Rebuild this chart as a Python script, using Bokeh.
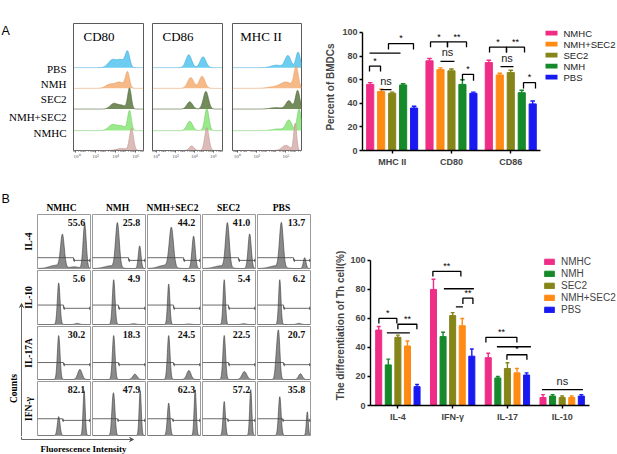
import numpy as np
from bokeh.plotting import figure
from bokeh.layouts import row, column, Spacer
from bokeh.models import Range1d, FixedTicker, Arrow, VeeHead
from bokeh.core.properties import value
from bokeh.embed import file_html
from bokeh.resources import INLINE

SANS = "Liberation Sans"
SERIF = "Liberation Serif"

# ================= DATA =================
# ---- Panel A: flow histograms (ridge plots) ----
ridge_groups = ["PBS", "NMH", "SEC2", "NMH+SEC2", "NMHC"]
ridge_fill = ["#5CC8F0", "#F5B27C", "#65804A", "#8FE880", "#D9B4B0"]
ridge_line = ["#3AAAD8", "#E89A5E", "#4B6334", "#6CCB5E", "#BF9591"]
ridge_base = [4.0, 3.0, 2.0, 0.96, 0.0]
hist_panels = ["CD80", "CD86", "MHC II"]
# peaks: (log10 intensity, height in ridge units, spread in decades)
cd80_peaks = [
    [(5.2, 0.75, 0.22), (4.55, 0.35, 0.35), (3.7, 0.38, 0.40)],
    [(5.2, 0.75, 0.20), (4.4, 0.30, 0.45), (3.4, 0.18, 0.40)],
    [(5.4, 1.00, 0.18), (3.8, 0.25, 0.35), (4.6, 0.18, 0.40)],
    [(5.4, 0.95, 0.18), (3.7, 0.28, 0.40), (4.6, 0.22, 0.40)],
    [(5.6, 1.05, 0.20), (4.6, 0.10, 0.50)],
]
cd86_peaks = [
    [(3.4, 0.62, 0.30), (4.9, 0.52, 0.30)],
    [(3.6, 0.52, 0.32), (4.8, 0.58, 0.30)],
    [(3.5, 0.35, 0.30), (5.2, 0.85, 0.27)],
    [(3.5, 0.45, 0.30), (5.3, 1.05, 0.22)],
    [(3.7, 0.22, 0.25), (5.3, 1.10, 0.22)],
]
mhc_peaks = [
    [(5.2, 0.58, 0.30), (6.25, 0.75, 0.22), (4.0, 0.12, 0.50)],
    [(6.05, 1.00, 0.22), (5.0, 0.30, 0.60), (3.6, 0.06, 0.60)],
    [(5.3, 0.40, 0.30), (6.2, 0.90, 0.22), (4.0, 0.07, 0.60)],
    [(5.3, 0.50, 0.30), (6.35, 1.05, 0.20), (4.2, 0.08, 0.60)],
    [(5.95, 1.30, 0.15), (5.0, 0.25, 0.40)],
]
hist_xranges = [(-0.2, 6.8), (-0.42, 6.95), (-0.5, 6.6)]
hist_ticks = [[0, 2, 4, 6], [0, 2, 4, 6], [0, 2, 5]]
hist_tick_labels = [["10⁰", "10²", "10⁴", "10⁶"], ["10⁰", "10²", "10⁴", "10⁶"], ["10⁰", "10²", "10⁵"]]

# ---- Panel A: bar chart ----
markers_a = ["MHC II", "CD80", "CD86"]
groups_a = ["NMHC", "NMH+SEC2", "SEC2", "NMH", "PBS"]
nmhc_a = [56, 76, 74.5]
nmhsec2_a = [50, 68.5, 64]
sec2_a = [48.5, 67.5, 66]
nmh_a = [55.5, 56, 49]
pbs_a = [36, 48.5, 39.5]
nmhc_a_err = [1.5, 2, 2]
nmhsec2_a_err = [2, 1.5, 1.5]
sec2_a_err = [1, 1.5, 2]
nmh_a_err = [1, 4, 2]
pbs_a_err = [1.5, 1, 2.5]
# significance marks: (x0, x1, y, leg drop, label)
sig_a = [
    (0.118, 0.304, 71.5, 4.5, "*"), (0.304, 0.489, 51.5, 0, "ns"),
    (0.118, 0.641, 82.5, 0, ""), (0.438, 0.860, 90.5, 5, "*"),
    (1.147, 1.433, 92, 4.5, "*"), (1.433, 1.754, 92, 4.5, "**"),
    (1.315, 1.551, 75.5, 0, "ns"), (1.686, 1.872, 64.5, 5.5, "*"),
    (2.142, 2.428, 87.5, 4.5, "*"), (2.428, 2.732, 87.5, 4.5, "**"),
    (2.327, 2.546, 71, 0, "ns"), (2.715, 2.917, 57.5, 5, "*"),
]

# ---- Panel B: Th cell histograms ----
cols_b = ["NMHC", "NMH", "NMH+SEC2", "SEC2", "PBS"]
rows_b = ["IL-4", "IL-10", "IL-17A", "IFN-γ"]
pct_il4 = ["55.6", "25.8", "44.2", "41.0", "13.7"]
pct_il10 = ["5.6", "4.9", "4.5", "5.4", "6.2"]
pct_il17a = ["30.2", "18.3", "24.5", "22.5", "20.7"]
pct_ifng = ["82.1", "47.9", "62.3", "57.2", "35.8"]
# gate marker per row: (left height, gate position, right height) as box fractions
gates_b = [(0.20, 0.68, 0.15), (0.36, 0.49, 0.30), (0.32, 0.49, 0.28), (0.31, 0.47, 0.28)]
# peaks: (position, height, spread) as box fractions
peaks_il4 = [
    [(0.47, 0.60, 0.035), (0.89, 0.82, 0.030), (0.35, 0.06, 0.12), (0.70, 0.03, 0.08)],
    [(0.47, 0.82, 0.035), (0.89, 0.42, 0.025), (0.35, 0.05, 0.12)],
    [(0.45, 0.73, 0.040), (0.87, 0.60, 0.030), (0.33, 0.06, 0.12)],
    [(0.47, 0.82, 0.035), (0.89, 0.64, 0.030), (0.35, 0.05, 0.12)],
    [(0.45, 0.82, 0.035), (0.89, 0.20, 0.025), (0.35, 0.05, 0.12)],
]
peaks_il10 = [
    [(0.40, 0.77, 0.025), (0.75, 0.02, 0.04)],
    [(0.40, 0.83, 0.025), (0.78, 0.015, 0.04)],
    [(0.40, 0.75, 0.022), (0.78, 0.01, 0.04)],
    [(0.41, 0.83, 0.022), (0.78, 0.015, 0.04)],
    [(0.42, 0.83, 0.022), (0.78, 0.02, 0.04)],
]
peaks_il17a = [
    [(0.40, 0.83, 0.025), (0.80, 0.19, 0.040)],
    [(0.40, 0.83, 0.025), (0.80, 0.10, 0.040)],
    [(0.40, 0.83, 0.025), (0.78, 0.17, 0.040)],
    [(0.41, 0.83, 0.025), (0.79, 0.15, 0.045)],
    [(0.40, 0.80, 0.025), (0.36, 0.40, 0.025), (0.81, 0.11, 0.035)],
]
peaks_ifng = [
    [(0.40, 0.35, 0.025), (0.88, 0.83, 0.020)],
    [(0.38, 0.50, 0.022), (0.41, 0.50, 0.022), (0.90, 0.83, 0.020)],
    [(0.40, 0.60, 0.025), (0.90, 0.85, 0.020)],
    [(0.41, 0.63, 0.022), (0.91, 0.85, 0.020)],
    [(0.42, 0.72, 0.025), (0.94, 0.44, 0.018)],
]

# ---- Panel B: bar chart ----
cytokines_b = ["IL-4", "IFN-γ", "IL-17", "IL-10"]
groups_b = ["NMHC", "NMH", "SEC2", "NMH+SEC2", "PBS"]
nmhc_b = [52, 80, 33, 5.5]
nmh_b = [28, 47.5, 19, 6.5]
sec2_b = [47, 62, 25.5, 5.5]
nmhsec2_b = [41, 55, 22.5, 5.5]
pbs_b = [13, 34, 21, 6.5]
nmhc_b_err = [2.5, 7, 3, 2]
nmh_b_err = [4, 3, 1, 1]
sec2_b_err = [1.5, 2, 4, 1]
nmhsec2_b_err = [3.5, 5, 3, 1]
pbs_b_err = [1.5, 5, 1.5, 1]
sig_b = [
    (0.153, 0.481, 60, 3.5, "*"), (0.299, 0.719, 50, 0, ""),
    (0.500, 0.847, 56, 3.5, "**"), (1.139, 1.650, 92.5, 3.5, "**"),
    (1.340, 1.888, 80.5, 0, ""), (1.559, 1.687, 68, 0, ""),
    (1.687, 1.870, 74, 4, "**"), (2.107, 2.673, 47, 3.5, "**"),
    (2.308, 2.929, 40.5, 0, ""), (2.491, 2.856, 35, 3.5, "*"),
    (3.130, 3.879, 11, 0, "ns"),
]

colors = {"NMHC": "#EF2D86", "NMH+SEC2": "#FF8A14", "SEC2": "#85851A",
          "NMH": "#16892A", "PBS": "#1919F2"}


# ================= HELPERS =================
def make_fig(w, h, xr, yr, l=0, r=0, t=0, b=0, xaxis=None, yaxis=None):
    p = figure(width=w, height=h, x_range=xr, y_range=yr, toolbar_location=None,
               output_backend="svg", title=None, x_axis_location=xaxis,
               y_axis_location=yaxis, min_border_left=l, min_border_right=r,
               min_border_top=t, min_border_bottom=b)
    p.xgrid.visible = False
    p.ygrid.visible = False
    p.outline_line_color = None
    p.background_fill_color = "white"
    p.border_fill_color = "white"
    return p


def gauss_sum(x, peaks):
    y = np.zeros_like(x)
    for c, hgt, s in peaks:
        y += hgt * np.exp(-0.5 * ((x - c) / s) ** 2)
    return y


# ================= PANEL A HISTOGRAMS =================
TOP_H = 185
HT, HB = 23, 21
YTOP = 141 / 23.0

labelsA = make_fig(73, TOP_H, Range1d(0, 73), Range1d(TOP_H, 0))
labelsA.text(x=[1], y=[1], text=["A"], text_font=value(SANS), text_font_size="12.5px",
             text_align="left", text_baseline="top")
labelsA.text(x=[66] * 5, y=[67, 87.5, 109.5, 135.5, 159], text=ridge_groups,
             text_font=value(SERIF), text_font_size="11px", text_align="right",
             text_baseline="middle")

hist_specs = [(75, 0, 5), (79, 4, 5), (79, 5, 5)]
all_peaks = [cd80_peaks, cd86_peaks, mhc_peaks]
title_x = [0.8, 0.63, 0.3]
hist_figs = []
for k in range(3):
    w, l, r = hist_specs[k]
    p = make_fig(w, TOP_H, Range1d(*hist_xranges[k]), Range1d(0, YTOP), l, r, HT, HB,
                 xaxis="below")
    p.outline_line_color = "#5a5a5a"
    p.outline_line_width = 1
    xa = p.xaxis[0]
    minors = []
    for d in range(-1, 8):
        for m in range(2, 10):
            v = d + np.log10(m)
            if hist_xranges[k][0] < v < hist_xranges[k][1]:
                minors.append(float(v))
    xa.ticker = FixedTicker(ticks=hist_ticks[k], minor_ticks=minors)
    xa.major_label_overrides = dict(zip(hist_ticks[k], hist_tick_labels[k]))
    xa.axis_line_color = None
    xa.major_tick_out = 2
    xa.major_tick_in = 0
    xa.minor_tick_out = 1
    xa.minor_tick_in = 0
    xa.major_tick_line_color = "#555555"
    xa.minor_tick_line_color = "#777777"
    xa.major_label_text_font = SERIF
    xa.major_label_text_font_size = "5px"
    xa.major_label_standoff = 1
    xa.major_label_text_color = "#555555"
    x = np.linspace(hist_xranges[k][0], hist_xranges[k][1], 300)
    for i in range(5):
        yv = gauss_sum(x, all_peaks[k][i])
        base = ridge_base[i]
        p.varea(x=x, y1=np.full_like(x, base), y2=base + yv,
                fill_color=ridge_fill[i], fill_alpha=0.9)
        p.line(x=x, y=base + yv, line_color=ridge_line[i], line_width=0.6)
    p.text(x=[title_x[k]], y=[5.52], text=[hist_panels[k]], text_font=value(SERIF),
           text_font_size="13px", text_align="left", text_baseline="middle",
           text_color="black")
    hist_figs.append(p)


# ================= BAR CHART HELPER =================
def bar_chart(w, h, l, t, b, xend, yend, cats, groups, means, errs, offs, bw, sigs,
              y_ppu, leg_loc, leg_spacing, title_standoff):
    p = make_fig(w, h, Range1d(0, xend), Range1d(0, yend), l, 0, t, b,
                 xaxis="below", yaxis="left")
    for i, g in enumerate(groups):
        xs = [c + 0.5 + offs[i] for c in range(len(cats))]
        tops = means[i]
        if leg_loc is not None:
            p.vbar(x=xs, top=tops, width=bw, color=colors[g], legend_label=g)
        else:
            p.vbar(x=xs, top=tops, width=bw, color=colors[g])
        ends = [tp + e for tp, e in zip(tops, errs[i])]
        p.segment(x0=xs, y0=tops, x1=xs, y1=ends, line_color=colors[g], line_width=1.4)
        p.segment(x0=[xx - bw * 0.32 for xx in xs], y0=ends,
                  x1=[xx + bw * 0.32 for xx in xs], y1=ends,
                  line_color=colors[g], line_width=1.4)
    xs_l, ys_l, tx, ty, tt = [], [], [], [], []
    for x0, x1, yy, d, lab in sigs:
        if d > 0:
            xs_l.append([x0, x0, x1, x1])
            ys_l.append([yy - d, yy, yy, yy - d])
        else:
            xs_l.append([x0, x1])
            ys_l.append([yy, yy])
        if lab:
            tx.append((x0 + x1) / 2)
            ty.append(yy + (3.0 / y_ppu if lab == "ns" else 0.4 / y_ppu))
            tt.append(lab)
    p.multi_line(xs=xs_l, ys=ys_l, line_color="black", line_width=1.3)
    stars = [(a, b_, c) for a, b_, c in zip(tx, ty, tt) if c != "ns"]
    nss = [(a, b_, c) for a, b_, c in zip(tx, ty, tt) if c == "ns"]
    if stars:
        p.text(x=[s[0] for s in stars], y=[s[1] for s in stars], text=[s[2] for s in stars],
               text_font=value(SANS), text_font_size="9px", text_align="center",
               text_baseline="bottom", text_color="black")
    if nss:
        p.text(x=[s[0] for s in nss], y=[s[1] for s in nss], text=[s[2] for s in nss],
               text_font=value(SANS), text_font_size="11px", text_align="center",
               text_baseline="bottom", text_color="#222222")
    ya = p.yaxis[0]
    ya.bounds = (0, 100)
    ya.ticker = FixedTicker(ticks=[0, 20, 40, 60, 80, 100])
    ya.minor_tick_line_color = None
    ya.major_tick_out = 3
    ya.major_tick_in = 0
    ya.axis_line_width = 1.4
    ya.major_tick_line_width = 1.4
    ya.major_label_text_font = SANS
    ya.major_label_text_font_style = "bold"
    ya.major_label_text_font_size = "9px"
    ya.major_label_standoff = 2
    ya.axis_label_text_font = SANS
    ya.axis_label_text_font_style = "bold"
    ya.axis_label_text_font_size = "10px"
    ya.axis_label_standoff = title_standoff
    xa = p.xaxis[0]
    nc = len(cats)
    ticks = [c + 0.5 for c in range(nc)]
    xa.bounds = (0, nc)
    xa.ticker = FixedTicker(ticks=ticks)
    xa.major_label_overrides = dict(zip(ticks, cats))
    xa.minor_tick_line_color = None
    xa.major_tick_out = 3
    xa.major_tick_in = 0
    xa.axis_line_width = 1.4
    xa.major_tick_line_width = 1.4
    xa.major_label_text_font = SANS
    xa.major_label_text_font_style = "bold"
    xa.major_label_text_font_size = "9px"
    xa.major_label_standoff = 3
    if leg_loc is not None:
        lg = p.legend[0]
        lg.location = leg_loc
        lg.border_line_color = None
        lg.background_fill_alpha = 0
        lg.label_text_font = SANS
        lg.label_text_font_size = "10px"
        lg.glyph_width = 12
        lg.glyph_height = 7
        lg.label_standoff = 6
        lg.label_height = 11
        lg.spacing = leg_spacing
        lg.padding = 0
        lg.margin = 0
    return p


offs5a = [-0.37, -0.185, 0.0, 0.185, 0.37]
# frame of the BMDC chart: x 362..543, y 23..150 (y=100 at 32)
pA = bar_chart(237, TOP_H, 56, 23, 35, 3.052, 107.6, markers_a, groups_a,
               [nmhc_a, nmhsec2_a, sec2_a, nmh_a, pbs_a],
               [nmhc_a_err, nmhsec2_a_err, sec2_a_err, nmh_a_err, pbs_a_err],
               offs5a, 0.12, sig_a, 1.18, None, 5, 3)
pA.yaxis[0].axis_label = "Percent of BMDCs"

# legend of the BMDC chart, drawn in its own strip
legA = make_fig(74, TOP_H, Range1d(543, 617), Range1d(TOP_H, 0))
leg_y = [14, 30, 46, 62, 78]
legA.rect(x=[551] * 5, y=leg_y, width=12, height=7,
          fill_color=[colors[g] for g in groups_a], line_color=None)
legA.text(x=[563] * 5, y=leg_y, text=groups_a, text_font=value(SANS),
          text_font_size="9.5px", text_align="left", text_baseline="middle",
          text_color="#222222")

offs5b = [-0.35, -0.175, 0.0, 0.175, 0.35]
pB = bar_chart(302, 269, 55, 60, 49, 4.51, 110.3, cytokines_b, groups_b,
               [nmhc_b, nmh_b, sec2_b, nmhsec2_b, pbs_b],
               [nmhc_b_err, nmh_b_err, sec2_b_err, nmhsec2_b_err, pbs_b_err],
               offs5b, 0.11, sig_b, 1.45, (173, 90), 1, 1)
pB.yaxis[0].axis_label = "The differentiation of Th cell(%)"

# ================= PANEL B HISTOGRAM GRID =================
cell_w = [55, 55, 55, 55, 55]
cell_h = [56, 56, 55, 56]
row_peaks = [peaks_il4, peaks_il10, peaks_il17a, peaks_ifng]
row_pcts = [pct_il4, pct_il10, pct_il17a, pct_ifng]
xg = np.linspace(0, 1, 260)
grid_rows = []
for r in range(4):
    cells = []
    gl, gx, gr = gates_b[r]
    for c in range(5):
        p = make_fig(cell_w[c], cell_h[r], Range1d(0, 1), Range1d(0, 1), 1, 1, 1, 1)
        p.outline_line_color = "#9a9a9a"
        p.outline_line_width = 1
        yv = np.minimum(gauss_sum(xg, row_peaks[r][c]), 0.97)
        p.varea(x=xg, y1=np.zeros_like(xg), y2=yv, fill_color="#8a8a8a")
        p.line(x=xg, y=yv, line_color="#3a3a3a", line_width=0.6)
        p.line(x=[0, gx, gx, 1], y=[gl, gl, gr, gr], line_color="#444444", line_width=0.8)
        p.segment(x0=[gx + 0.015, 0.985], y0=[gr - 0.03, gr - 0.03],
                  x1=[gx + 0.015, 0.985], y1=[gr + 0.03, gr + 0.03],
                  line_color="#444444", line_width=0.8)
        p.text(x=[0.9], y=[0.91], text=[row_pcts[r][c]], text_font=value(SERIF),
               text_font_style="bold", text_font_size="10px", text_align="right",
               text_baseline="top", text_color="#111111")
        cells.append(p)
    grid_rows.append(row(*cells))
grid = column(*grid_rows)

# header with "B" and column titles (pixel-like coordinates, y downward)
header = make_fig(315, 28, Range1d(0, 315), Range1d(213, 185))
header.text(x=[1], y=[191], text=["B"], text_font=value(SANS), text_font_size="12.5px",
            text_align="left", text_baseline="top")
header.text(x=[61, 117, 172, 228, 281], y=[207] * 5, text=cols_b,
            text_font=value(SERIF), text_font_style="bold", text_font_size="9.5px",
            text_align="center", text_baseline="middle")

# left strip: row labels, "Counts", vertical arrow
left = make_fig(36, 223, Range1d(0, 36), Range1d(436, 213))
left.text(x=[28] * 4, y=[241, 297, 352.5, 408.5], text=rows_b,
          text_font=value(SERIF), text_font_style="bold", text_font_size="9.5px",
          text_align="center", text_baseline="middle", angle=np.pi / 2)
left.text(x=[13], y=[388], text=["Counts"], text_font=value(SERIF),
          text_font_style="bold", text_font_size="9.5px", text_align="center",
          text_baseline="middle", angle=np.pi / 2)
left.add_layout(Arrow(end=VeeHead(size=4, line_color="#444444", line_width=0.8,
                                  fill_color="#444444"),
                      x_start=21, y_start=436, x_end=21, y_end=303,
                      line_color="#444444", line_width=0.8))

# bottom strip: horizontal arrow and axis caption
bottom = make_fig(315, 18, Range1d(0, 315), Range1d(454, 436))
bottom.line(x=[21, 21], y=[436, 439], line_color="#444444", line_width=0.8)
bottom.add_layout(Arrow(end=VeeHead(size=4, line_color="#444444", line_width=0.8,
                                    fill_color="#444444"),
                        x_start=21, y_start=439, x_end=133, y_end=439,
                        line_color="#444444", line_width=0.8))
bottom.text(x=[83], y=[448], text=["Fluorescence Intensity"], text_font=value(SERIF),
            text_font_style="bold", text_font_size="9px", text_align="center",
            text_baseline="middle")

middle = row(left, grid, Spacer(width=4, height=223))
bblock = column(header, middle, bottom)

layout = column(row(labelsA, hist_figs[0], hist_figs[1], hist_figs[2], pA, legA),
                row(bblock, pB))

open("out.html", "w").write(file_html(layout, INLINE))
